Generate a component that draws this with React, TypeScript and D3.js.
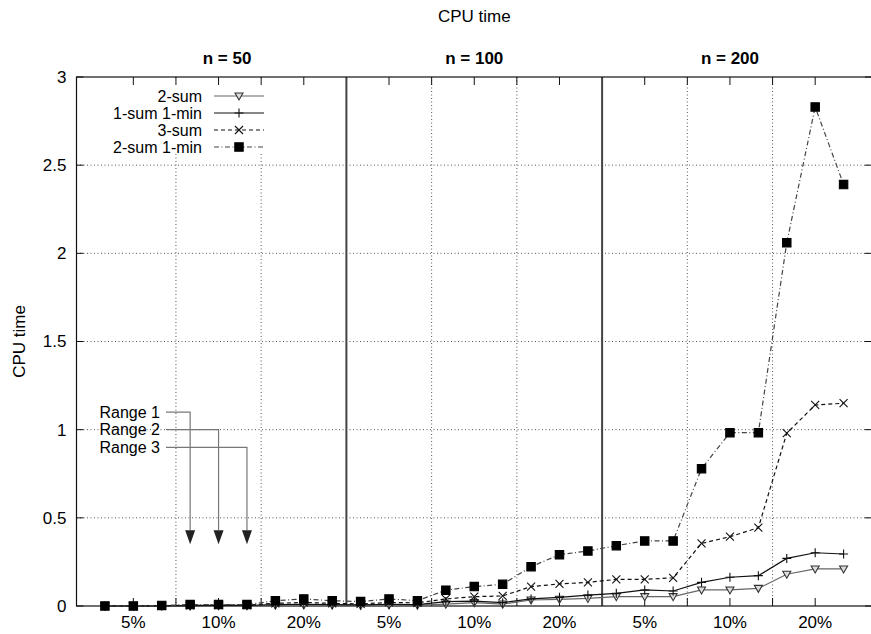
import * as d3 from 'd3';

const W = 871;
const H = 634;
const MARGIN = { top: 77, right: -1, bottom: 28, left: 76.5 };

// categories
const sizeLabels = ['n = 50', 'n = 100', 'n = 200'];
const sizeLabelX = [5.3, 14, 23];
const ratioLabels = ['5%', '10%', '20%', '5%', '10%', '20%', '5%', '10%', '20%'];
const ratioTickX = [2, 5, 8, 11, 14, 17, 20, 23, 26];
const gridX = [3.5, 6.5, 12.5, 15.5, 21.5, 24.5];
const separatorX = [9.5, 18.5];
const yTicks = [0, 0.5, 1, 1.5, 2, 2.5, 3];

// x positions 1..27 : 3 sizes x 3 ratios x 3 ranges
const xs = [1, 2, 3, 4, 5, 6, 7, 8, 9, 10, 11, 12, 13, 14, 15, 16, 17, 18, 19, 20, 21, 22, 23, 24, 25, 26, 27];

const twoSum = [0, 0, 0.001, 0.001, 0.002, 0.002, 0.005, 0.006, 0.005,
  0.004, 0.006, 0.005, 0.011, 0.019, 0.011, 0.034, 0.038, 0.043,
  0.053, 0.053, 0.053, 0.091, 0.091, 0.1, 0.18, 0.21, 0.21];
const oneSumOneMin = [0, 0, 0.001, 0.002, 0.003, 0.003, 0.008, 0.01, 0.008,
  0.006, 0.01, 0.008, 0.025, 0.028, 0.019, 0.04, 0.049, 0.062,
  0.072, 0.091, 0.085, 0.134, 0.163, 0.172, 0.27, 0.302, 0.295];
const threeSum = [0, 0, 0.002, 0.004, 0.005, 0.005, 0.015, 0.02, 0.015,
  0.012, 0.02, 0.018, 0.04, 0.053, 0.057, 0.11, 0.125, 0.134,
  0.151, 0.151, 0.16, 0.355, 0.393, 0.444, 0.98, 1.14, 1.15];
const twoSumOneMin = [0, 0, 0.003, 0.008, 0.008, 0.008, 0.03, 0.04, 0.03,
  0.025, 0.04, 0.03, 0.09, 0.11, 0.123, 0.223, 0.291, 0.312,
  0.342, 0.369, 0.369, 0.779, 0.983, 0.983, 2.06, 2.83, 2.39];

// range annotations
const rangeLabels = ['Range 1', 'Range 2', 'Range 3'];
const rangeLabelY = [1.1, 1.0, 0.9];
const rangeArrowX = [4, 5, 6];
const rangeStartX = 3.15;
const rangeArrowEndY = 0.35;

const FONT = '"Liberation Sans", Arial, Helvetica, sans-serif';

const markerPaths: Record<string, string> = {
  tri: 'M-4,-3L4,-3L0,4Z',
  plus: 'M-4.5,0L4.5,0M0,-4.5L0,4.5',
  times: 'M-4,-4L4,4M4,-4L-4,4',
  square: 'M-4.2,-4.2H4.2V4.2H-4.2Z',
};

const series = [
  { name: '2-sum', values: twoSum, color: '#666', dash: undefined, marker: 'tri', mFill: '#ddd', mStroke: '#333' },
  { name: '1-sum 1-min', values: oneSumOneMin, color: '#111', dash: undefined, marker: 'plus', mFill: 'none', mStroke: '#111' },
  { name: '3-sum', values: threeSum, color: '#111', dash: '4,3', marker: 'times', mFill: 'none', mStroke: '#111' },
  { name: '2-sum 1-min', values: twoSumOneMin, color: '#444', dash: '5,2.5,1,2.5', marker: 'square', mFill: '#000', mStroke: '#000' },
];

export default function App() {
  const x = d3.scaleLinear().domain([0, 28]).range([MARGIN.left, W - MARGIN.right]);
  const y = d3.scaleLinear().domain([0, 3]).range([H - MARGIN.bottom, MARGIN.top]);
  const x0 = x(0), x1 = x(28), y0 = y(0), y1 = y(3);

  const line = d3.line<number>()
    .x((_, i) => x(xs[i]))
    .y((d) => y(d));

  const dotted = { stroke: '#555', strokeWidth: 1, strokeDasharray: '1,2.5' };

  // opaque key box
  const keyX = 100, keyTop = y1 + 1, keyBottom = 154, keyRight = 268;
  const keyRows = [96, 113, 130, 147];

  return (
    <svg width={W} height={H} style={{ position: 'absolute', left: 0, top: 0, background: '#fff' }} fontFamily={FONT}>
      <rect x={0} y={0} width={W} height={H} fill="#fff" />
      <text x={(x0 + x1) / 2} y={22} textAnchor="middle" fontSize={17}>CPU time</text>
      <text transform={`translate(25,${(y0 + y1) / 2}) rotate(-90)`} textAnchor="middle" fontSize={17}>CPU time</text>

      {/* grid */}
      {yTicks.slice(1, -1).map((t) => (
        <line key={'gy' + t} x1={x0} x2={x1} y1={y(t)} y2={y(t)} {...dotted} />
      ))}
      {gridX.map((g) => (
        <line key={'gx' + g} x1={x(g)} x2={x(g)} y1={y1} y2={y0} {...dotted} />
      ))}
      <rect x={keyX} y={keyTop} width={keyRight - keyX} height={keyBottom - keyTop} fill="#fff" />

      {/* group separators */}
      {separatorX.map((s) => (
        <line key={'sep' + s} x1={x(s)} x2={x(s)} y1={y1} y2={y0} stroke="#444" strokeWidth={2} />
      ))}

      {/* frame + ticks */}
      <rect x={x0} y={y1} width={x1 - x0} height={y0 - y1} fill="none" stroke="#111" strokeWidth={1.2} />
      {yTicks.map((t) => (
        <g key={'yt' + t}>
          <line x1={x0} x2={x0 + 7} y1={y(t)} y2={y(t)} stroke="#111" />
          <line x1={x1} x2={x1 - 7} y1={y(t)} y2={y(t)} stroke="#111" />
          <text x={x0 - 10} y={y(t)} dy="0.35em" textAnchor="end" fontSize={17}>{t}</text>
        </g>
      ))}
      {[...ratioTickX, ...gridX].map((t) => (
        <g key={'xt' + t}>
          <line x1={x(t)} x2={x(t)} y1={y0} y2={y0 - 8} stroke="#111" />
          <line x1={x(t)} x2={x(t)} y1={y1} y2={y1 + 8} stroke="#111" />
        </g>
      ))}
      {ratioLabels.map((l, i) => (
        <text key={'xl' + i} x={x(ratioTickX[i])} y={y0 + 22} textAnchor="middle" fontSize={17}>{l}</text>
      ))}
      {sizeLabels.map((l, i) => (
        <text key={'sl' + i} x={x(sizeLabelX[i])} y={64} textAnchor="middle" fontSize={17} fontWeight="bold">{l}</text>
      ))}

      {/* range annotations */}
      {rangeLabels.map((l, i) => (
        <g key={'rg' + i}>
          <text x={x(rangeStartX) - 6} y={y(rangeLabelY[i])} dy="0.35em" textAnchor="end" fontSize={16}>{l}</text>
          <path
            d={`M${x(rangeStartX)},${y(rangeLabelY[i])}H${x(rangeArrowX[i])}V${y(rangeArrowEndY) - 14}`}
            fill="none" stroke="#777" strokeWidth={1.2}
          />
          <path
            d={`M${x(rangeArrowX[i]) - 5},${y(rangeArrowEndY) - 14}L${x(rangeArrowX[i]) + 5},${y(rangeArrowEndY) - 14}L${x(rangeArrowX[i])},${y(rangeArrowEndY)}Z`}
            fill="#222"
          />
        </g>
      ))}

      {/* series */}
      {series.map((s) => (
        <g key={s.name}>
          <path d={line(s.values) ?? ''} fill="none" stroke={s.color} strokeWidth={1.2} strokeDasharray={s.dash} />
          {s.values.map((v, i) => (
            <path key={i} d={markerPaths[s.marker]} transform={`translate(${x(xs[i])},${y(v)})`}
              fill={s.mFill} stroke={s.mStroke} strokeWidth={1.1} />
          ))}
        </g>
      ))}

      {/* key */}
      {series.map((s, i) => (
        <g key={'k' + s.name}>
          <text x={202} y={keyRows[i]} dy="0.35em" textAnchor="end" fontSize={16}>{s.name}</text>
          <line x1={214} x2={264} y1={keyRows[i]} y2={keyRows[i]} stroke={s.color} strokeWidth={1.2} strokeDasharray={s.dash} />
          <path d={markerPaths[s.marker]} transform={`translate(239,${keyRows[i]})`} fill={s.mFill} stroke={s.mStroke} strokeWidth={1.1} />
        </g>
      ))}
    </svg>
  );
}
